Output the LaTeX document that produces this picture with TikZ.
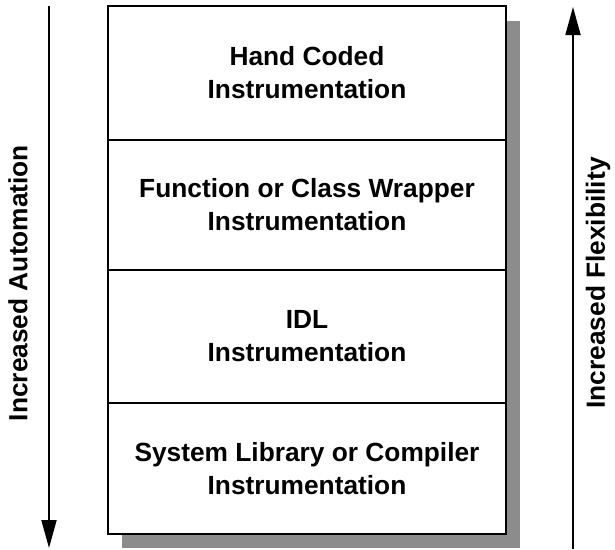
\documentclass[tikz,border=0pt]{standalone}
\usepackage{fontspec}
\setmainfont{Liberation Sans}
\usetikzlibrary{arrows.meta}
\begin{document}
\begin{tikzpicture}[x=1pt,y=-1pt,
  cell/.style={draw=black,line width=1.8pt,fill=white,minimum width=398pt,
    align=center,inner sep=0pt,
    font=\fontsize{26.3}{33}\selectfont\bfseries},
  axis/.style={line width=1.8pt,-{Triangle[width=15pt,length=28pt]}},
  axislabel/.style={font=\fontsize{26.3}{33}\selectfont\bfseries,rotate=90,inner sep=0pt}]
\useasboundingbox (0,0) rectangle (615,549);
% drop shadow behind the stack
\fill[black!45] (122,21) rectangle (520,548);
% the four instrumentation levels
\node[cell,minimum height=134pt] (c1) at (307,73) {Hand Coded\\Instrumentation};
\node[cell,minimum height=130pt] (c2) at (307,205) {Function or Class Wrapper\\Instrumentation};
\node[cell,minimum height=133pt] (c3) at (307,336.5) {IDL\\Instrumentation};
\node[cell,minimum height=131pt] (c4) at (307,468.5) {System Library or Compiler\\Instrumentation};
% side axes
\coordinate (l1) at (49,6);
\coordinate (l2) at (49,548);
\coordinate (r1) at (573,549);
\coordinate (r2) at (573,7);
\draw[axis] (l1) -- (l2);
\draw[axis] (r1) -- (r2);
\node[axislabel] (la) at (18,283) {Increased Automation};
\node[axislabel] (lf) at (598,283) {Increased Flexibility};
\end{tikzpicture}
\end{document}
